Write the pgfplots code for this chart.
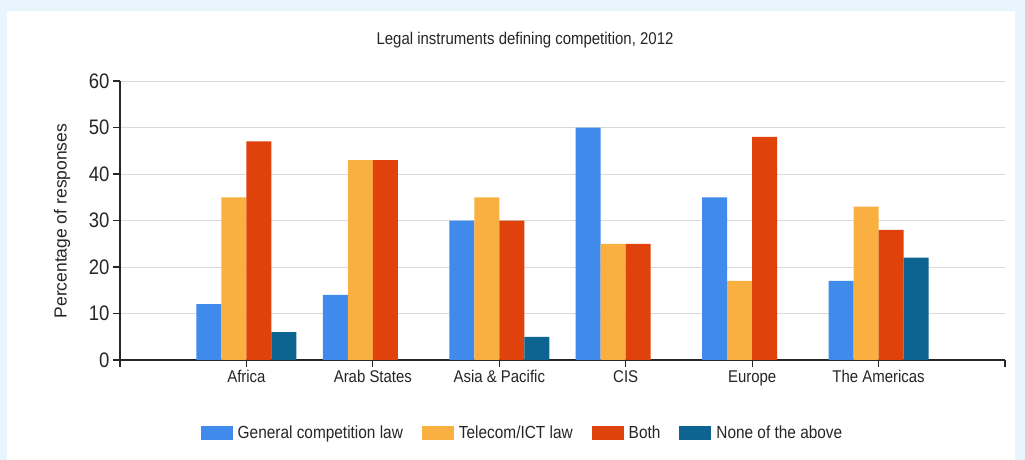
\documentclass[border=0pt]{standalone}
\usepackage{fontspec}
\setmainfont{Liberation Sans}[FakeStretch=0.88]
\newfontfamily\ylabfont{Liberation Sans}
\usepackage{pgfplots}
\pgfplotsset{compat=1.18}
\definecolor{bgblue}{HTML}{E8F5FC}
\definecolor{cblue}{HTML}{3F8AEA}
\definecolor{corange}{HTML}{FAB040}
\definecolor{cred}{HTML}{E0420B}
\definecolor{cteal}{HTML}{0D6491}
\definecolor{txt}{HTML}{262626}
\definecolor{gridc}{HTML}{DADADA}
\begin{document}
\begin{tikzpicture}
\fill[bgblue] (0bp,0bp) rectangle (1025bp,460bp);
\fill[white] (7bp,0bp) rectangle (1015bp,449bp);
\node[font=\fontsize{17bp}{20bp}\selectfont, text=txt] at (525bp,420bp) {Legal instruments defining competition, 2012};
\begin{axis}[
  at={(120bp,100bp)}, anchor=south west,
  width=885bp, height=279bp, scale only axis,
  xmin=-1, xmax=6, ymin=0, ymax=60,
  axis x line*=bottom, axis y line*=left,
  axis line style={color=black!85, line width=1.2pt},
  ybar=0pt, bar width=25bp,
  xtick={-1,0,1,2,3,4,5,6},
  xticklabels={,Africa,Arab States,Asia \& Pacific,CIS,Europe,The Americas,},
  ytick={0,10,...,60},
  tick align=outside,
  major tick length=7bp,
  tick style={color=black!85, line width=1.2pt},
  ymajorgrids, grid style={gridc, line width=0.9pt},
  /pgf/number format/assume math mode=true,
  yticklabel style={font=\fontsize{21bp}{24bp}\selectfont, text=txt},
  xticklabel style={font=\fontsize{17bp}{20bp}\selectfont, text=txt},
  ylabel={Percentage of responses},
  ylabel style={font=\ylabfont\fontsize{17.5bp}{20bp}\selectfont, text=txt, at={(axis description cs:-0.0655,0.498)}, anchor=center},
  legend columns=4,
  legend style={at={(axis description cs:0.4565,-0.262)}, anchor=center, draw=none, fill=none,
    font=\fontsize{17.5bp}{20bp}\selectfont, text=txt,
    /tikz/every even column/.append style={column sep=14bp},
    nodes={inner xsep=5bp}},
  legend image code/.code={\fill[#1] (0bp,-7bp) rectangle (32bp,7bp);},
]
\addplot[fill=cblue, draw=none] coordinates {(0,12) (1,14) (2,30) (3,50) (4,35) (5,17)};
\addplot[fill=corange, draw=none] coordinates {(0,35) (1,43) (2,35) (3,25) (4,17) (5,33)};
\addplot[fill=cred, draw=none] coordinates {(0,47) (1,43) (2,30) (3,25) (4,48) (5,28)};
\addplot[fill=cteal, draw=none] coordinates {(0,6) (2,5) (5,22)};
\legend{General competition law, Telecom/ICT law, Both, None of the above}
\end{axis}
\end{tikzpicture}
\end{document}
